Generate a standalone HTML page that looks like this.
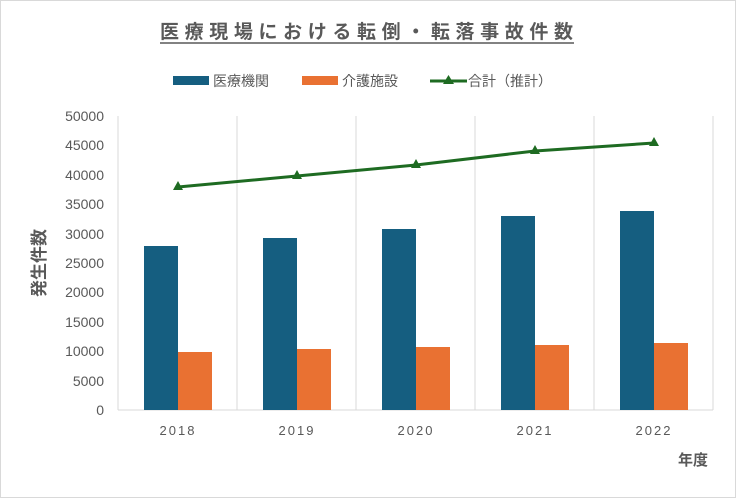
<!DOCTYPE html>
<html><head><meta charset="utf-8"><style>
html,body{margin:0;padding:0;background:#fff;}
svg{display:block;font-family:"Liberation Sans","Noto Sans CJK JP",sans-serif;}
</style></head><body>
<svg width="736" height="498" viewBox="0 0 736 498">
<rect x="0.5" y="0.5" width="735" height="497" fill="#fff" stroke="#d9d9d9"/>
<text x="160" y="38" textLength="413" lengthAdjust="spacing" font-size="19" font-weight="bold" fill="#595959">医療現場における転倒・転落事故件数</text>
<line x1="160" y1="43" x2="574" y2="43" stroke="#595959" stroke-width="1.5"/>
<rect x="173" y="76" width="36" height="9" fill="#155e80"/>
<text x="213" y="86" font-size="14" fill="#595959">医療機関</text>
<rect x="302" y="76" width="36" height="9" fill="#e97132"/>
<text x="342" y="86" font-size="14" fill="#595959">介護施設</text>
<line x1="430" y1="81" x2="467" y2="81" stroke="#1e6b22" stroke-width="3"/>
<polygon points="448.5,75 443,84 454,84" fill="#1e6b22"/>
<text x="468" y="86" font-size="14" fill="#595959">合計（推計）</text>
<g stroke="#d9d9d9" stroke-width="1">
<line x1="118" y1="116" x2="118" y2="410"/><line x1="237" y1="116" x2="237" y2="410"/>
<line x1="356" y1="116" x2="356" y2="410"/><line x1="475" y1="116" x2="475" y2="410"/>
<line x1="594" y1="116" x2="594" y2="410"/><line x1="713" y1="116" x2="713" y2="410"/>
<line x1="118" y1="410" x2="713" y2="410"/>
</g>
<g font-size="14" fill="#595959" text-anchor="end">
<text x="104" y="415">0</text><text x="104" y="386">5000</text><text x="104" y="356">10000</text>
<text x="104" y="327">15000</text><text x="104" y="297">20000</text><text x="104" y="268">25000</text>
<text x="104" y="239">30000</text><text x="104" y="209">35000</text><text x="104" y="180">40000</text>
<text x="104" y="150">45000</text><text x="104" y="121">50000</text>
</g>
<text transform="translate(45,263) rotate(-90)" text-anchor="middle" font-size="17" font-weight="bold" fill="#595959">発生件数</text>
<g fill="#155e80">
<rect x="144" y="246" width="34" height="164"/><rect x="263" y="238" width="34" height="172"/>
<rect x="382" y="229" width="34" height="181"/><rect x="501" y="216" width="34" height="194"/>
<rect x="620" y="211" width="34" height="199"/>
</g>
<g fill="#e97132">
<rect x="178" y="352" width="34" height="58"/><rect x="297" y="349" width="34" height="61"/>
<rect x="416" y="347" width="34" height="63"/><rect x="535" y="345" width="34" height="65"/>
<rect x="654" y="343" width="34" height="67"/>
</g>
<polyline points="178,187 297,176 416,165 535,151 654,143" fill="none" stroke="#1e6b22" stroke-width="3"/>
<g fill="#1e6b22">
<polygon points="178,181 173,190 183,190"/><polygon points="297,170 292,179 302,179"/>
<polygon points="416,159 411,168 421,168"/><polygon points="535,145 530,154 540,154"/>
<polygon points="654,137 649,146 659,146"/>
</g>
<g font-size="13" fill="#595959" text-anchor="middle" letter-spacing="2">
<text x="178" y="435">2018</text><text x="297" y="435">2019</text><text x="416" y="435">2020</text>
<text x="535" y="435">2021</text><text x="654" y="435">2022</text>
</g>
<text x="708" y="465" text-anchor="end" font-size="15" font-weight="bold" fill="#595959">年度</text>
</svg>
</body></html>
